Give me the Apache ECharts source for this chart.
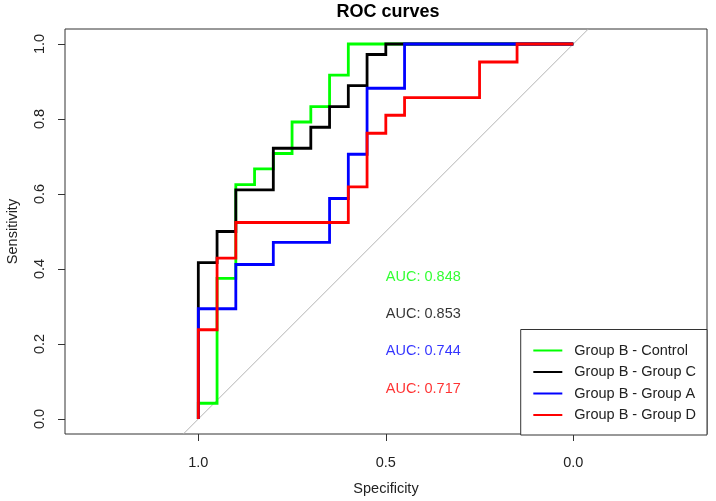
<!DOCTYPE html>
<html>
<head>
<meta charset="utf-8">
<script src="https://cdn.jsdelivr.net/npm/echarts@6/dist/echarts.min.js"></script>
<style>
html,body{margin:0;padding:0;background:#fff;}
#chart{width:716px;height:501px;}
</style>
</head>
<body>
<div id="chart"></div>
<script>
// ---- data ----
const seriesNames = ['Group B - Control', 'Group B - Group C', 'Group B - Group A', 'Group B - Group D'];
const seriesColors = ['#00FF00', '#000000', '#0000FF', '#FF0000'];

const controlSpec = [1, 1, 0.95, 0.95, 0.90, 0.90, 0.85, 0.85, 0.80, 0.80, 0.75, 0.75, 0.70, 0.70, 0.65, 0.65, 0.60, 0.60, 0];
const controlSens = [0, 0.042, 0.042, 0.375, 0.375, 0.625, 0.625, 0.667, 0.667, 0.708, 0.708, 0.792, 0.792, 0.833, 0.833, 0.917, 0.917, 1, 1];

const groupCSpec = [1, 1, 0.95, 0.95, 0.90, 0.90, 0.80, 0.80, 0.70, 0.70, 0.65, 0.65, 0.60, 0.60, 0.55, 0.55, 0.50, 0.50, 0];
const groupCSens = [0, 0.417, 0.417, 0.5, 0.5, 0.611, 0.611, 0.722, 0.722, 0.778, 0.778, 0.833, 0.833, 0.889, 0.889, 0.972, 0.972, 1, 1];

const groupASpec = [1, 1, 0.90, 0.90, 0.80, 0.80, 0.65, 0.65, 0.60, 0.60, 0.55, 0.55, 0.45, 0.45, 0];
const groupASens = [0, 0.294, 0.294, 0.412, 0.412, 0.471, 0.471, 0.588, 0.588, 0.706, 0.706, 0.882, 0.882, 1, 1];

const groupDSpec = [1, 1, 0.95, 0.95, 0.90, 0.90, 0.60, 0.60, 0.55, 0.55, 0.50, 0.50, 0.45, 0.45, 0.25, 0.25, 0.15, 0.15, 0];
const groupDSens = [0, 0.238, 0.238, 0.429, 0.429, 0.524, 0.524, 0.619, 0.619, 0.762, 0.762, 0.810, 0.810, 0.857, 0.857, 0.952, 0.952, 1, 1];

const aucValues = [0.848, 0.853, 0.744, 0.717];
const aucLabelX = 0.5;
const aucLabelY = [0.380, 0.281, 0.182, 0.081];

const xTicks = [1.0, 0.5, 0.0];
const yTicks = [0, 0.2, 0.4, 0.6, 0.8, 1.0];

// axis ranges (R-style extension, asp = 1)
const xMin = -0.3565, xMax = 1.3555;
const yMin = -0.04, yMax = 1.04;

// ---- build ----
const FONT = '"Liberation Sans", Arial, Helvetica, sans-serif';
const zip = (a, b) => a.map((v, i) => [v, b[i]]);
const curves = [
  zip(controlSpec, controlSens),
  zip(groupCSpec, groupCSens),
  zip(groupASpec, groupASens),
  zip(groupDSpec, groupDSens)
];

const series = [];
// identity line: sensitivity = 1 - specificity, across the y range
series.push({
  type: 'line',
  name: 'identity',
  data: [[1 - yMin, yMin], [1 - yMax, yMax]],
  showSymbol: false,
  symbol: 'none',
  silent: true,
  lineStyle: { color: '#b4b4b4', width: 1 },
  z: 1
});
curves.forEach((d, i) => {
  series.push({
    type: 'line',
    name: seriesNames[i],
    data: d,
    symbol: 'none',
    showSymbol: false,
    color: seriesColors[i],
    itemStyle: { color: seriesColors[i] },
    lineStyle: { color: seriesColors[i], width: 2.8, join: 'miter' },
    z: 2 + i
  });
});
aucValues.forEach((v, i) => {
  series.push({
    type: 'scatter',
    name: 'auc' + i,
    data: [[aucLabelX, aucLabelY[i]]],
    symbolSize: 0,
    silent: true,
    label: {
      show: true,
      position: 'right',
      distance: 0,
      formatter: 'AUC: ' + v.toFixed(3),
      color: seriesColors[i],
      fontSize: 14.5,
      fontFamily: FONT
    },
    z: 10
  });
});

const chart = echarts.init(document.getElementById('chart'), null, { renderer: 'canvas' });
chart.setOption({
  animation: false,
  backgroundColor: '#fff',
  title: {
    text: 'ROC curves',
    left: 383,
    textAlign: 'center',
    top: -2,
    textStyle: { fontSize: 18, fontWeight: 'bold', color: '#000', fontFamily: FONT }
  },
  grid: {
    left: 65, top: 29, right: 9, bottom: 67,
    containLabel: false, outerBoundsMode: 'none',
    show: true, borderColor: '#333', borderWidth: 1, backgroundColor: 'transparent'
  },
  xAxis: {
    type: 'value',
    inverse: true,
    min: xMin,
    max: xMax,
    name: 'Specificity',
    nameLocation: 'middle',
    nameGap: 47,
    nameTextStyle: { fontSize: 14.5, color: '#222', fontFamily: FONT },
    axisLine: { show: false, onZero: false },
    splitLine: { show: false },
    axisTick: { show: true, length: 7, inside: false, customValues: xTicks, lineStyle: { color: '#333' } },
    axisLabel: {
      customValues: xTicks,
      formatter: v => v.toFixed(1),
      fontSize: 14.5, color: '#222', fontFamily: FONT, margin: 21
    }
  },
  yAxis: {
    type: 'value',
    min: yMin,
    max: yMax,
    name: 'Sensitivity',
    nameLocation: 'middle',
    nameGap: 45,
    nameRotate: 90,
    nameTextStyle: { fontSize: 14.5, color: '#222', fontFamily: FONT },
    axisLine: { show: false, onZero: false },
    splitLine: { show: false },
    axisTick: { show: true, length: 7, inside: false, customValues: yTicks, lineStyle: { color: '#333' } },
    axisLabel: {
      customValues: yTicks,
      rotate: 90,
      formatter: v => v.toFixed(1),
      fontSize: 14.5, color: '#222', fontFamily: FONT, margin: 17.5
    }
  },
  legend: {
    data: seriesNames,
    orient: 'vertical',
    right: 9,
    top: 329.5,
    itemWidth: 29,
    itemHeight: 2,
    itemGap: 4.5,
    icon: 'rect',
    padding: [12.5, 11, 11.5, 12.6],
    borderColor: '#333',
    borderWidth: 1,
    borderRadius: 0,
    backgroundColor: '#fff',
    selectedMode: false,
    textStyle: { fontSize: 14.5, color: '#222', fontFamily: FONT, lineHeight: 17, padding: [0, 0, 0, 7] }
  },
  series: series
});
</script>
</body>
</html>
